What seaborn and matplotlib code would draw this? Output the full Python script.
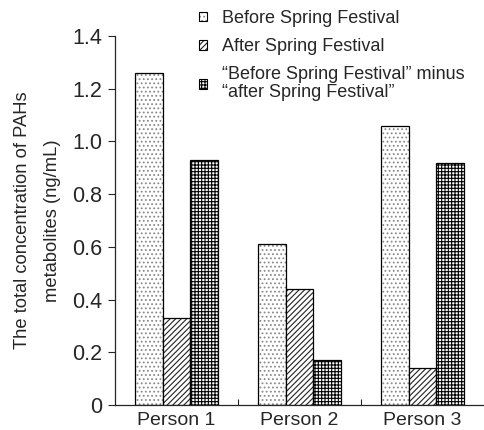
import matplotlib
matplotlib.use("Agg")
import matplotlib.pyplot as plt
import matplotlib.colors as mcolors
import seaborn as sns
import pandas as pd
from matplotlib.patches import Patch
from matplotlib.ticker import FixedLocator

persons = ["Person 1", "Person 2", "Person 3"]
before = [1.26, 0.61, 1.06]
after = [0.33, 0.44, 0.14]
minus = [0.93, 0.17, 0.92]
series = ["Before Spring Festival", "After Spring Festival",
          "\u201cBefore Spring Festival\u201d minus\n\u201cafter Spring Festival\u201d"]
yticks = [0, 0.2, 0.4, 0.6, 0.8, 1.0, 1.2, 1.4]
ytick_labels = ["0", "0.2", "0.4", "0.6", "0.8", "1.0", "1.2", "1.4"]

df = pd.DataFrame({
    "person": persons * 3,
    "value": before + after + minus,
    "series": [series[0]] * 3 + [series[1]] * 3 + [series[2]] * 3,
})

sns.set_style("ticks")
plt.rcParams["font.family"] = ["Liberation Sans", "DejaVu Sans"]
plt.rcParams["hatch.linewidth"] = 0.8

fig = plt.figure(figsize=(4.84, 4.30), dpi=100)
ax = fig.add_axes([115 / 484, 25 / 430, 1 - 115 / 484, (405 - 36) / 430])

sns.barplot(data=df, x="person", y="value", hue="series", hue_order=series,
            order=persons, palette=["white"] * 3, width=0.67, ax=ax,
            legend=False, errorbar=None, saturation=1)

hatches = ["....", "//////", "+++++"]
hcolors = ["#8a8a8a", "#222222", "black"]


def style_patch(p, h, hc, lw):
    p.set_hatch(h)
    p.set_edgecolor("black")
    p.set_linewidth(lw)
    if hasattr(p, "set_hatchcolor"):
        p.set_hatchcolor(hc)
    else:
        p._hatch_color = mcolors.to_rgba(hc)


for cont, h, hc in zip(ax.containers, hatches, hcolors):
    for p in cont:
        style_patch(p, h, hc, 0.9)

ax.set_xlim(-0.5, 2.5)
ax.set_ylim(0, 1.4)
ax.set_yticks(yticks)
ax.set_yticklabels(ytick_labels)
ax.set_xlabel("")
ax.set_ylabel("The total concentration of PAHs\nmetabolites (ng/mL)", fontsize=13.2,
              linespacing=2.05, labelpad=8)
ax.tick_params(axis="y", direction="out", length=5, width=0.8, labelsize=15.5, pad=4)
ax.tick_params(axis="x", which="major", length=0, labelsize=14, pad=5)
ax.xaxis.set_minor_locator(FixedLocator([0.5, 1.5]))
ax.tick_params(axis="x", which="minor", direction="in", length=4, width=0.8)
for s in ["top", "right"]:
    ax.spines[s].set_visible(False)
for s in ["left", "bottom"]:
    ax.spines[s].set_linewidth(0.9)

handles = []
for h, hc in zip(hatches, hcolors):
    hp = Patch(facecolor="white", edgecolor="black", linewidth=0.8)
    style_patch(hp, h, hc, 0.8)
    handles.append(hp)
leg = fig.legend(handles, series, loc="upper left",
                 bbox_transform=fig.transFigure,
                 bbox_to_anchor=(199 / 484, 1 - 10 / 430),
                 frameon=False, fontsize=13, handlelength=0.45, handleheight=0.45,
                 handletextpad=0.8, labelspacing=0.62, borderpad=0, borderaxespad=0)
for t in leg.get_texts():
    t.set_linespacing(1.05)

fig.savefig("out.png", dpi=100)
